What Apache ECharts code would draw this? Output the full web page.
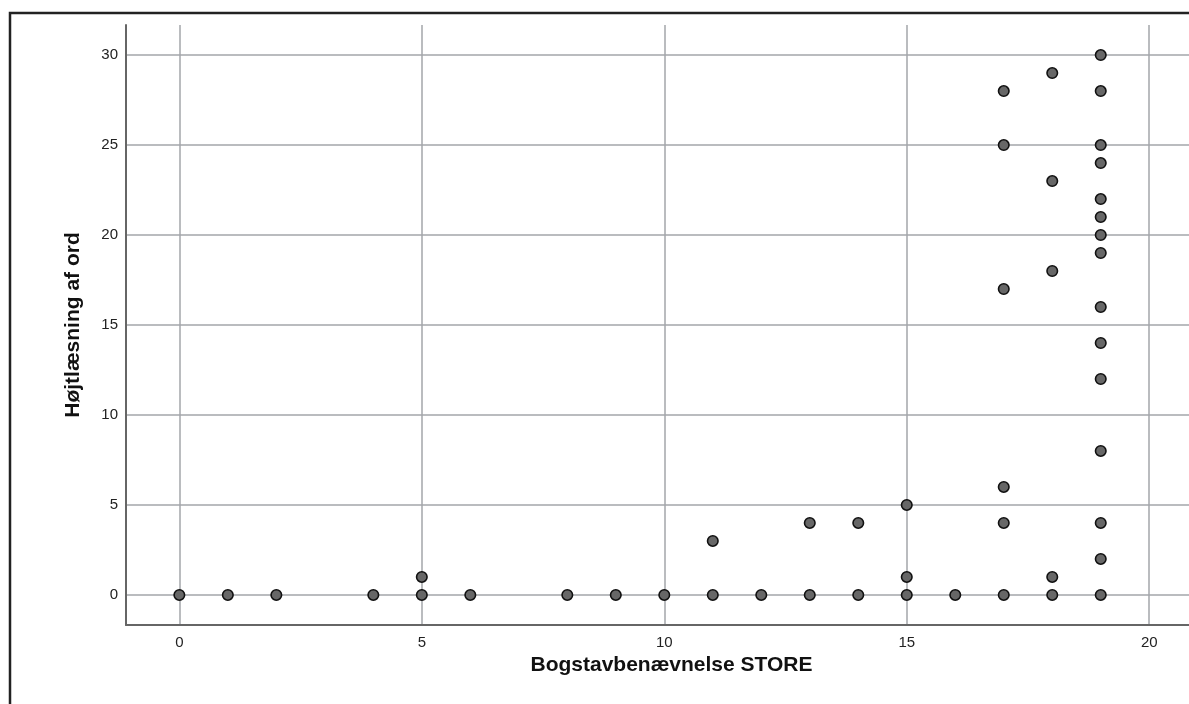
<!DOCTYPE html>
<html>
<head>
<meta charset="utf-8">
<script src="https://cdn.jsdelivr.net/npm/echarts@6/dist/echarts.min.js"></script>
<style>
html,body{margin:0;padding:0;background:#fff;}
#chart{width:1189px;height:704px;}
</style>
</head>
<body>
<div id="chart"></div>
<script>
// Data: [Bogstavbenævnelse STORE, Højtlæsning af ord]
const xValues = [0,1,2,4,5,5,6,8,9,10,11,11,12,13,13,14,14,15,15,15,16,
  17,17,17,17,17,17,
  18,18,18,18,18,
  19,19,19,19,19,19,19,19,19,19,19,19,19,19,19];
const yValues = [0,0,0,0,0,1,0,0,0,0,0,3,0,0,4,0,4,0,1,5,0,
  0,4,6,17,25,28,
  0,1,18,23,29,
  0,2,4,8,12,14,16,19,20,21,22,24,25,28,30];
const xAxisTitle = 'Bogstavbenævnelse STORE';
const yAxisTitle = 'Højtlæsning af ord';
const xRange = [-1.1, 20.82];
const yRange = [-1.67, 31.67];

const points = xValues.map((x, i) => [x, yValues[i]]);

const chart = echarts.init(document.getElementById('chart'), null, {renderer: 'canvas'});
const font = '"Liberation Sans", Arial, sans-serif';
const gridLine = {show: true, showMinLine: false, showMaxLine: false, lineStyle: {color: '#a3a6aa', width: 1.5}};
const labelFmt = v => (Math.abs(v % 5) < 1e-9 ? String(v) : '');

chart.setOption({
  backgroundColor: '#fff',
  animation: false,
  grid: {left: 126, right: 0, top: 25, bottom: 79, containLabel: false},
  xAxis: {
    type: 'value', min: xRange[0], max: xRange[1], minInterval: 5, maxInterval: 5,
    name: xAxisTitle, nameLocation: 'middle', nameGap: 25,
    nameTextStyle: {fontFamily: font, fontWeight: 'bold', fontSize: 21, color: '#111', padding: [0, 0, 0, 28]},
    axisLine: {show: true, onZero: false, lineStyle: {color: '#666', width: 2}},
    axisTick: {show: false},
    axisLabel: {show: true, showMinLabel: false, showMaxLabel: false, formatter: labelFmt, margin: 10, fontFamily: font, fontSize: 15, color: '#222'},
    splitLine: gridLine
  },
  yAxis: {
    type: 'value', min: yRange[0], max: yRange[1], minInterval: 5, maxInterval: 5,
    name: yAxisTitle, nameLocation: 'middle', nameGap: 42, nameRotate: 90,
    nameTextStyle: {fontFamily: font, fontWeight: 'bold', fontSize: 21, color: '#111'},
    axisLine: {show: true, onZero: false, lineStyle: {color: '#666', width: 2}},
    axisTick: {show: false},
    axisLabel: {show: true, showMinLabel: false, showMaxLabel: false, formatter: labelFmt, margin: 8, fontFamily: font, fontSize: 15, color: '#222'},
    splitLine: gridLine
  },
  graphic: [{
    type: 'rect', silent: true, z: 100,
    shape: {x: 10, y: 13, width: 1300, height: 800},
    style: {fill: 'none', stroke: '#222', lineWidth: 2.5}
  }],
  series: [{
    type: 'scatter',
    data: points,
    symbol: 'circle',
    symbolSize: 10.5,
    itemStyle: {color: '#676767', borderColor: '#111', borderWidth: 1.6, opacity: 1}
  }]
});
</script>
</body>
</html>
